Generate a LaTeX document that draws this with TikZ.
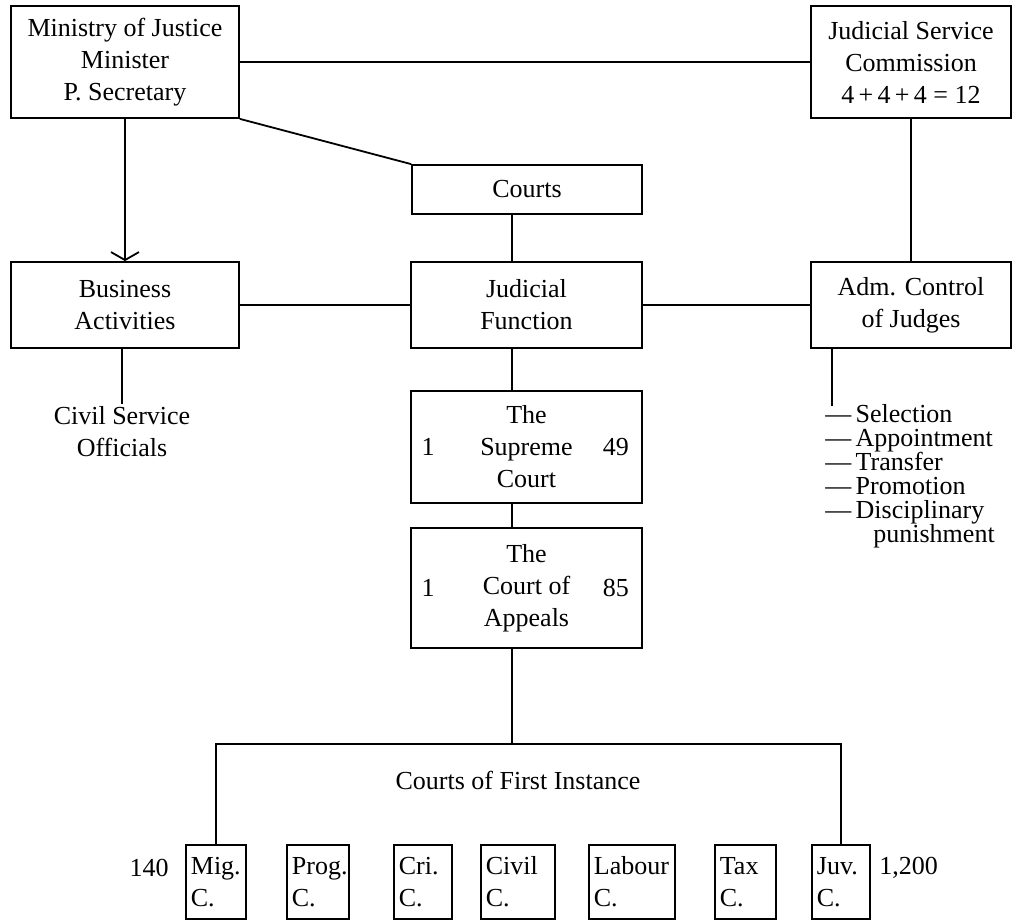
\documentclass[tikz,border=0pt]{standalone}
\usepackage{fontspec}
\setmainfont{Liberation Serif}
\usetikzlibrary{arrows.meta,positioning}
\tikzset{
  orgbox/.style={draw,line width=0.9pt,align=center,inner sep=2pt,font=\fontsize{13}{16}\selectfont},
  orgtext/.style={align=center,inner sep=1pt,font=\fontsize{13}{16}\selectfont},
  link/.style={line width=0.9pt},
}

\begin{document}
\begin{tikzpicture}[x=0.5pt,y=-0.5pt]
  \useasboundingbox (0,0) rectangle (1013,921);
  \node[orgbox,minimum width=114pt,minimum height=56pt] (minis) at (125,62) {Ministry of Justice\\Minister\\P. Secretary};
  \node[orgbox,minimum width=100pt,minimum height=56pt] (jsc) at (911,62) {Judicial Service\\Commission\\4\,+\,4\,+\,4 = 12};
  \node[orgbox,minimum width=115pt,minimum height=24.5pt] (courts) at (527,189.5) {Courts};
  \node[orgbox,minimum width=114pt,minimum height=43pt] (busi) at (125,305) {Business\\Activities};
  \node[orgbox,minimum width=115.5pt,minimum height=43pt] (judic) at (526.5,305) {Judicial\\Function};
  \node[orgbox,minimum width=100pt,minimum height=43pt] (admc) at (911,305) {Adm. Control\\of Judges};
  \node[orgbox,minimum width=115.5pt,minimum height=56pt] (supreme) at (526.5,447) {The\\Supreme\\Court};
  \node[orgbox,minimum width=115.5pt,minimum height=60pt] (appeals) at (526.5,588) {The\\Court of\\Appeals};
  \node[orgtext] (sc1) at ([xshift=9pt]supreme.west) {1};
  \node[orgtext] (sc49) at ([xshift=-13.5pt]supreme.east) {49};
  \node[orgtext] (ca1) at ([xshift=9pt]appeals.west) {1};
  \node[orgtext] (ca85) at ([xshift=-13.5pt]appeals.east) {85};

  \node[orgtext] (civser) at (122,432) {Civil Service\\Officials};
  \node[orgtext,anchor=north west,align=left,font=\fontsize{13}{12}\selectfont] (duties) at (823,402)
    {---\,Selection\\---\,Appointment\\---\,Transfer\\---\,Promotion\\---\,Disciplinary\\\hspace*{24pt}punishment};
  \coordinate (tick) at (832,406);
  \coordinate (spine) at (512,0);
  \coordinate (bus) at (512,744);

  \draw[link] (minis.east) -- (jsc.west);
  \draw[link] (minis.south east) -- (courts.north west);
  \draw[link,-{Straight Barb[length=4pt,width=14pt]}] (minis.south) -- (busi.north);
  \draw[link] (jsc.south) -- (admc.north);
  \draw[link] (busi.east) -- (judic.west);
  \draw[link] (judic.east) -- (admc.west);
  \draw[link] (busi.south -| civser.north) -- (civser.north);
  \draw[link] (admc.south -| tick) -- (tick);
  \draw[link] (courts.south -| spine) -- (judic.north -| spine);
  \draw[link] (judic.south -| spine) -- (supreme.north -| spine);
  \draw[link] (supreme.south -| spine) -- (appeals.north -| spine);
  \draw[link] (appeals.south -| spine) -- (bus);

  \node[orgtext] (cfi) at (518,780) {Courts of First Instance};
  \foreach [count=\i] \x/\w/\lab in {185/60/{Mig.\\C.},286/62/{Prog.\\C.},393/58/{Cri.\\C.},480/74/{Civil\\C.},588/86/{Labour\\C.},714/61/{Tax\\C.},811/58/{Juv.\\C.}} {
    \pgfmathsetmacro{\tw}{\w*0.5-5}
    \node[orgbox,anchor=north west,align=left,text width=\tw pt,inner xsep=2.5pt,minimum height=37pt] (fc\i) at (\x,844) {\lab};
  }
  \draw[link] (fc1.north) -- (fc1.north |- bus) -- (fc7.north |- bus) -- (fc7.north);
  \node[orgtext,anchor=east] (lowest) at (171,868) {140};
  \node[orgtext,anchor=west] (highest) at (877,868) {1,200};
\end{tikzpicture}
\end{document}
